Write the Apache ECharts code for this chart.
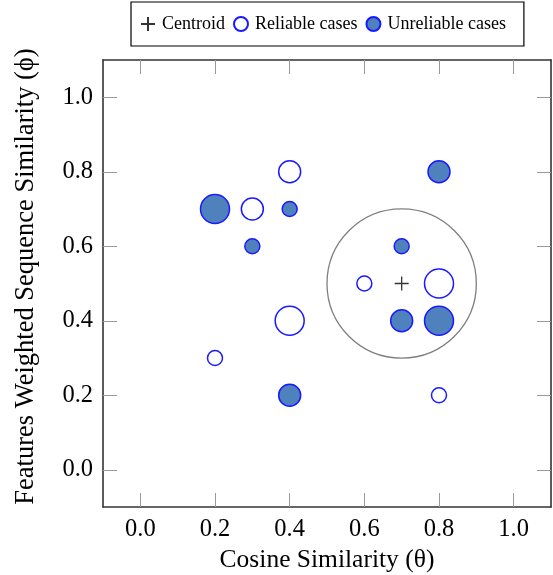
<!DOCTYPE html>
<html>
<head>
<meta charset="utf-8">
<script src="https://cdn.jsdelivr.net/npm/echarts@6/dist/echarts.min.js"></script>
<style>
  html, body { margin: 0; padding: 0; background: #fff; }
  #chart { width: 553px; height: 575px; }
</style>
</head>
<body>
<div id="chart"></div>
<script>
// tick values shown on both axes
const tickValues = [0, 0.2, 0.4, 0.6, 0.8, 1.0];

// reliable cases (hollow bubbles): x, y, weight
const reliableX = [0.4, 0.3, 0.4, 0.2, 0.6, 0.8, 0.8];
const reliableY = [0.8, 0.7, 0.4, 0.3, 0.5, 0.5, 0.2];
const reliableW = [2, 2, 3, 1, 1, 3, 1];

// unreliable cases (filled bubbles)
const unreliableX = [0.2, 0.4, 0.3, 0.8, 0.7, 0.7, 0.8, 0.4];
const unreliableY = [0.7, 0.7, 0.6, 0.8, 0.6, 0.4, 0.4, 0.2];
const unreliableW = [3, 1, 1, 2, 1, 2, 3, 2];

// centroid and its neighbourhood radius
const centroidX = [0.7];
const centroidY = [0.5];
const centroidR = [0.2];

const font = 'Liberation Serif';
const blue = '#1a1aff';
const fillBlue = '#4f81bd';

function zip(xs, ys, ws) {
    return xs.map((x, i) => ws ? [x, ys[i], ws[i]] : [x, ys[i]]);
}
function bubbleSize(v) {
    return 8 + 7 * v[2];
}

const myChart = echarts.init(document.getElementById('chart'));

const axisCommon = {
    type: 'value',
    min: -0.1,
    max: 1.1,
    splitLine: { show: false },
    axisLine: { show: true, onZero: false, lineStyle: { color: '#333', width: 1.6 } },
    axisTick: { show: true, inside: true, length: 14, customValues: tickValues,
        lineStyle: { color: '#999', width: 1 } },
    axisLabel: { show: true, customValues: tickValues, fontFamily: font, fontSize: 24.5, color: '#000',
        margin: 10, formatter: v => v.toFixed(1) }
};
const mirror = {
    type: 'value',
    min: -0.1,
    max: 1.1,
    splitLine: { show: false },
    axisLine: { show: true, onZero: false, lineStyle: { color: '#333', width: 1.6 } },
    axisTick: { show: true, inside: true, length: 14, customValues: tickValues,
        lineStyle: { color: '#999', width: 1 } },
    axisLabel: { show: false }
};

myChart.setOption({
    animation: false,
    textStyle: { fontFamily: font },
    grid: { left: 103, top: 60, width: 448, height: 447, outerBoundsMode: 'none' },
    legend: {
        data: ['Centroid', 'Reliable cases', 'Unreliable cases'],
        left: 131,
        top: 2,
        padding: [13, 18, 13, 9],
        itemWidth: 14,
        itemHeight: 14,
        itemGap: 8,
        borderColor: '#000',
        borderWidth: 1.2,
        borderRadius: 0,
        textStyle: { fontFamily: font, fontSize: 18, color: '#000', padding: [0, 0, 0, 2] }
    },
    xAxis: [
        Object.assign({}, axisCommon, {
            position: 'bottom',
            name: 'Cosine Similarity (\u03b8)',
            nameLocation: 'middle',
            nameGap: 40,
            nameTextStyle: { fontFamily: font, fontSize: 25.5, color: '#000' }
        }),
        Object.assign({}, mirror, { position: 'top' })
    ],
    yAxis: [
        Object.assign({}, axisCommon, {
            position: 'left',
            name: 'Features Weighted Sequence Similarity (\u03d5)',
            nameLocation: 'middle',
            nameGap: 63,
            nameTextStyle: { fontFamily: font, fontSize: 26.5, color: '#000', padding: [0, 0, 0, 14] }
        }),
        Object.assign({}, mirror, { position: 'right' })
    ],
    series: [
        {
            name: 'neighbourhood',
            type: 'custom',
            z: 1,
            data: centroidX.map((x, i) => [x, centroidY[i], centroidR[i]]),
            renderItem: function (params, api) {
                const c = api.coord([api.value(0), api.value(1)]);
                const r = api.size([api.value(2), 0])[0];
                return {
                    type: 'circle',
                    shape: { cx: c[0], cy: c[1], r: r },
                    style: { fill: 'none', stroke: '#7f7f7f', lineWidth: 1.3 }
                };
            }
        },
        {
            name: 'Centroid',
            type: 'scatter',
            z: 3,
            symbol: 'path://M0,5L10,5M5,0L5,10',
            symbolSize: 14,
            itemStyle: { color: 'transparent', borderColor: '#000', borderWidth: 1.3 },
            data: zip(centroidX, centroidY)
        },
        {
            name: 'Reliable cases',
            type: 'scatter',
            z: 3,
            symbol: 'circle',
            symbolSize: bubbleSize,
            itemStyle: { color: '#fff', borderColor: blue, borderWidth: 1.5, opacity: 1 },
            data: zip(reliableX, reliableY, reliableW)
        },
        {
            name: 'Unreliable cases',
            type: 'scatter',
            z: 3,
            symbol: 'circle',
            symbolSize: bubbleSize,
            itemStyle: { color: fillBlue, borderColor: blue, borderWidth: 1.5, opacity: 1 },
            data: zip(unreliableX, unreliableY, unreliableW)
        }
    ]
});
window.addEventListener('resize', myChart.resize);
</script>
</body>
</html>
